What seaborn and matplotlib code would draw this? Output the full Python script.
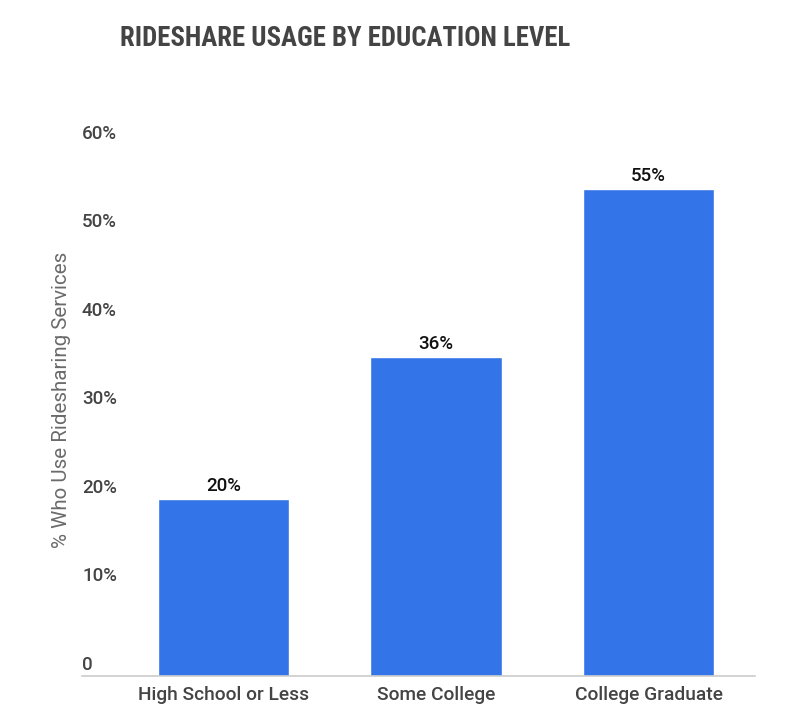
import matplotlib
matplotlib.use("Agg")
import matplotlib.pyplot as plt
import matplotlib.transforms as mtransforms
from matplotlib import font_manager
import pandas as pd
import seaborn as sns

sns.set_theme(style="white")
plt.rcParams["font.family"] = ["Roboto", "DejaVu Sans"]

categories = ["High School or Less", "Some College", "College Graduate"]
usage_pct = [20, 36, 55]
y_ticks = [0, 10, 20, 30, 40, 50, 60]
y_tick_labels = ["0", "10%", "20%", "30%", "40%", "50%", "60%"]

BAR_COLOR = "#3374E8"
TEXT_COLOR = "#444444"

# the title uses a condensed face; fall back to a smaller Roboto if none is around
installed = {f.name for f in font_manager.fontManager.ttflist}
title_family, title_size = "Roboto", 16.8
for name in ["Roboto Condensed", "Liberation Sans Narrow", "DejaVu Sans Condensed"]:
    if name in installed:
        title_family, title_size = name, 19.3
        break

df = pd.DataFrame({"education": categories, "usage": usage_pct})

fig = plt.figure(figsize=(8, 7.27), dpi=100)
ax = fig.add_axes([0.1025, 0.0702, 0.8415, 0.7304])

sns.barplot(data=df, x="education", y="usage", color=BAR_COLOR,
            width=0.618, saturation=1, ax=ax)

ax.set_ylim(0, 60)
ax.set_xlim(-0.667, 2.502)

# value labels above bars
for container in ax.containers:
    ax.bar_label(container, labels=[f"{v}%" for v in usage_pct], padding=3,
                 fontsize=13.5, color="#111111", fontweight="medium")

# y tick labels sit above their grid position, left aligned
ax.set_yticks(y_ticks)
ax.set_yticklabels([])
ax.tick_params(axis="y", length=0)
trans = mtransforms.offset_copy(ax.get_yaxis_transform(), fig=fig, x=0, y=6, units="dots")
for t, lab in zip(y_ticks, y_tick_labels):
    ax.text(0, t, lab, transform=trans, ha="left", va="baseline",
            fontsize=13.5, color=TEXT_COLOR, fontweight="medium")

ax.tick_params(axis="x", length=0, pad=7, labelsize=13.8, labelcolor=TEXT_COLOR)
for lab in ax.get_xticklabels():
    lab.set_fontweight("medium")
ax.set_xlabel("")
ax.set_ylabel("% Who Use Ridesharing Services", fontsize=14.8, color="#6a6a6a")
ax.yaxis.set_label_coords(-0.016, 0.52)

for side in ["top", "right", "left"]:
    ax.spines[side].set_visible(False)
ax.spines["bottom"].set_color("#cccccc")
ax.spines["bottom"].set_linewidth(1.2)

fig.text(345 / 800, 1 - 39 / 727, "RIDESHARE USAGE BY EDUCATION LEVEL",
         ha="center", va="center", fontsize=title_size, fontweight="bold",
         color=TEXT_COLOR, family=[title_family, "DejaVu Sans"])

fig.savefig("out.png", dpi=100, facecolor="white")
